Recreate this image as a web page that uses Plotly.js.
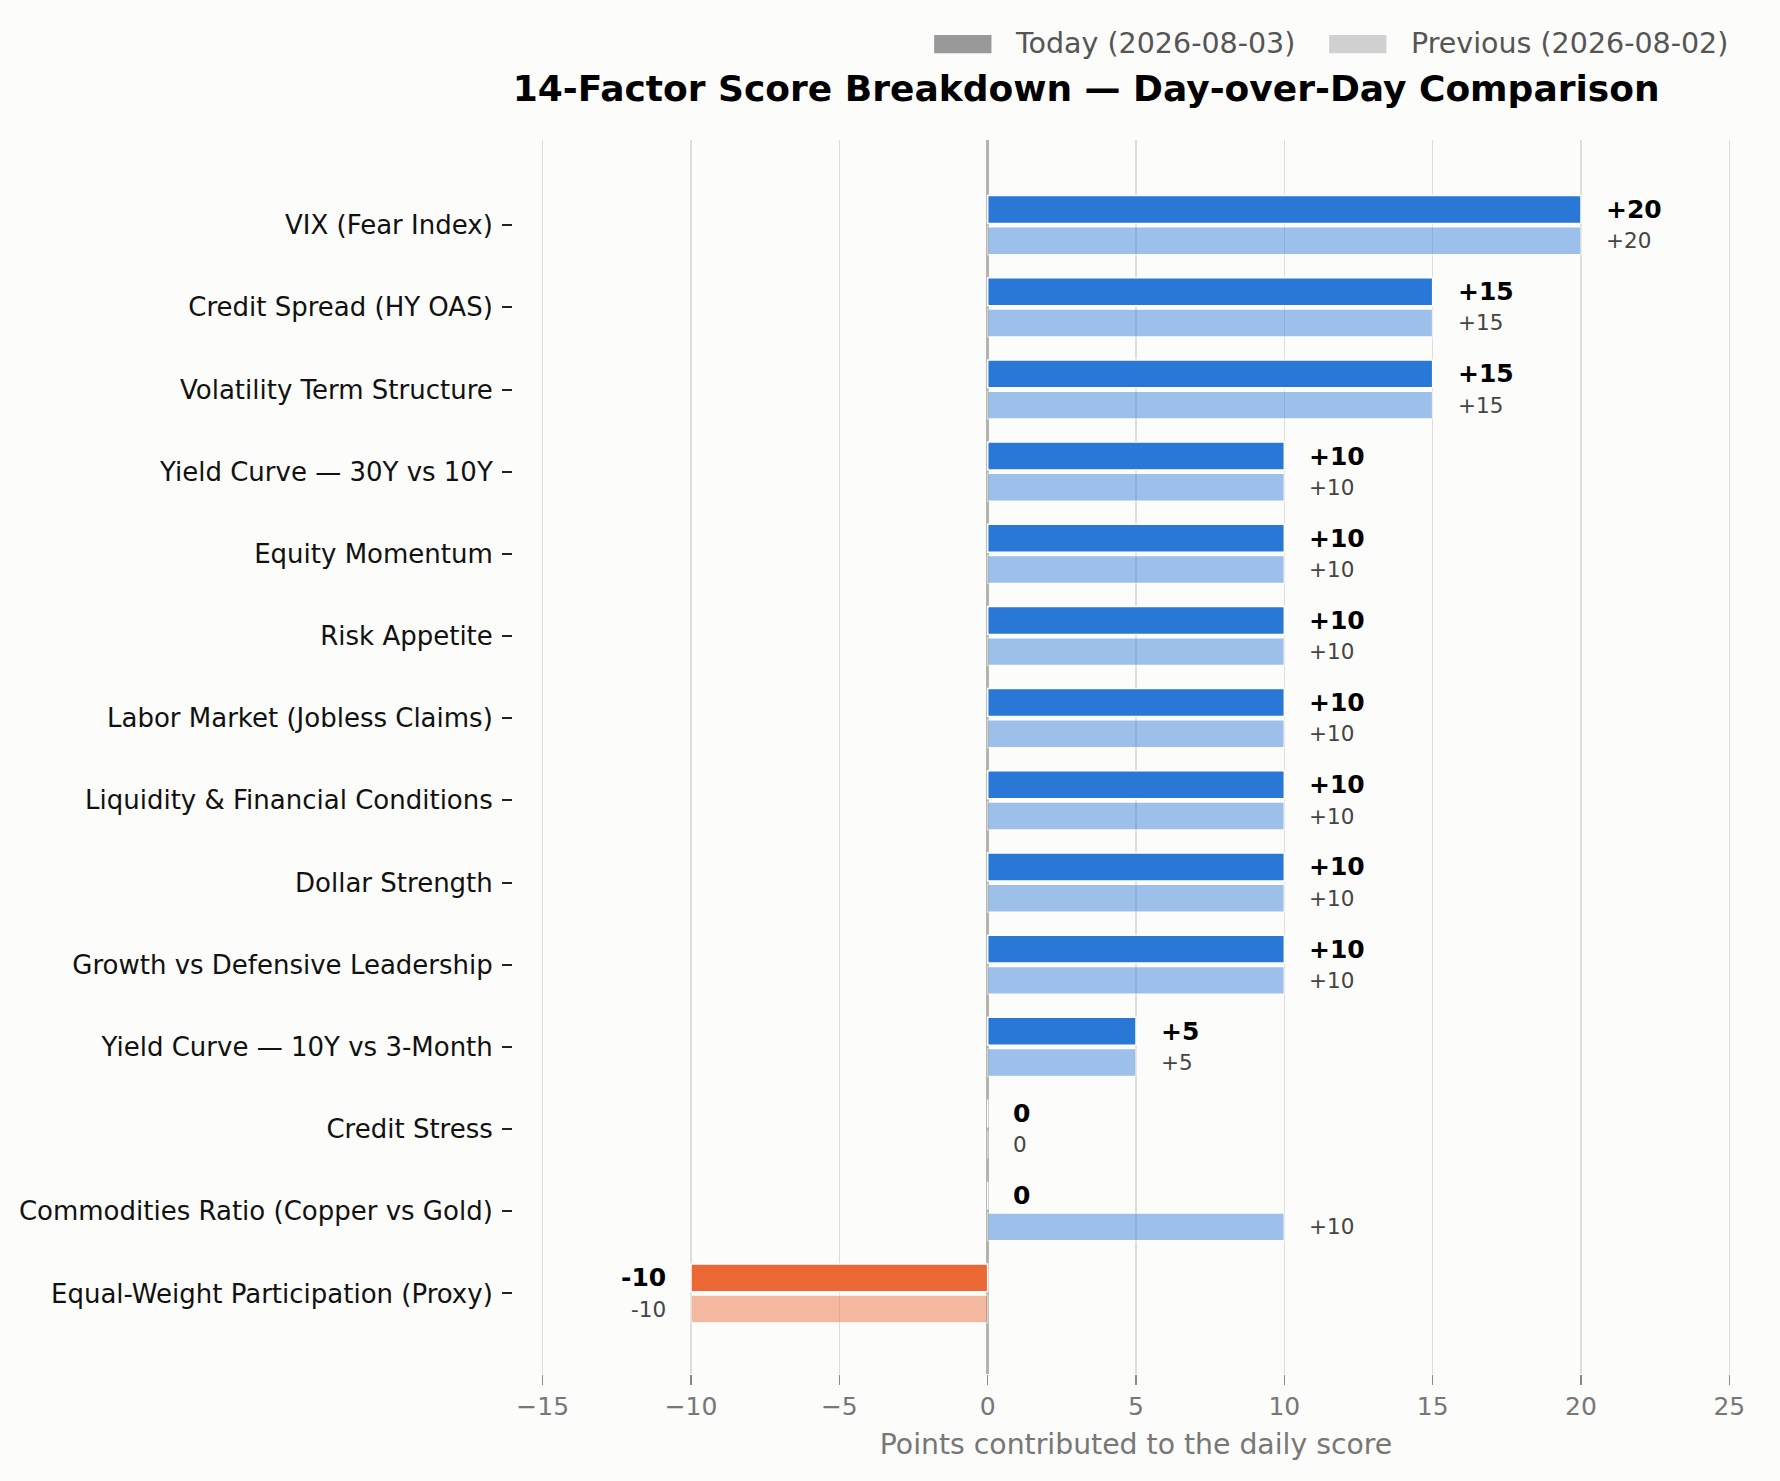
<!DOCTYPE html>
<html>
<head>
<meta charset="utf-8">
<script src="https://cdn.plot.ly/plotly-3.0.1.min.js"></script>
<style>
  html, body { margin: 0; padding: 0; background: #fcfcfa; }
  #chart { width: 1780px; height: 1481px; }
</style>
</head>
<body>
<div id="chart"></div>
<script>
// factor names, top to bottom
var factors = [
  "VIX (Fear Index)",
  "Credit Spread (HY OAS)",
  "Volatility Term Structure",
  "Yield Curve \u2014 30Y vs 10Y",
  "Equity Momentum",
  "Risk Appetite",
  "Labor Market (Jobless Claims)",
  "Liquidity & Financial Conditions",
  "Dollar Strength",
  "Growth vs Defensive Leadership",
  "Yield Curve \u2014 10Y vs 3-Month",
  "Credit Stress",
  "Commodities Ratio (Copper vs Gold)",
  "Equal-Weight Participation (Proxy)"
];
var today    = [20, 15, 15, 10, 10, 10, 10, 10, 10, 10, 5, 0, 0, -10];
var previous = [20, 15, 15, 10, 10, 10, 10, 10, 10, 10, 5, 0, 10, -10];
var legendNames = ["Today (2026-08-03)", "Previous (2026-08-02)"];
var xTicks = [-15, -10, -5, 0, 5, 10, 15, 20, 25];

var POS = "#2a78d6", NEG = "#eb6734";

function barColor(v) { return v < 0 ? NEG : POS; }
function fmt(v) { return v > 0 ? "+" + v : String(v); }

var traceToday = {
  type: "bar",
  orientation: "h",
  name: legendNames[0],
  y: factors,
  x: today,
  marker: { color: today.map(barColor), line: { color: "#ffffff", width: 1.5 } },
  showlegend: false,
  hoverinfo: "x+y"
};
var tracePrev = {
  type: "bar",
  orientation: "h",
  name: legendNames[1],
  y: factors,
  x: previous,
  marker: { color: previous.map(barColor), opacity: 0.45, line: { color: "#ffffff", width: 1.5 } },
  showlegend: false,
  hoverinfo: "x+y"
};

// value labels beside each bar
var annotations = [];
today.forEach(function (v, i) {
  annotations.push({
    x: v, y: i - 0.19, xref: "x", yref: "y",
    text: "<b>" + fmt(v) + "</b>", showarrow: false,
    xanchor: v < 0 ? "right" : "left", xshift: v < 0 ? -23 : 23,
    font: { family: "DejaVu Sans", size: 25, color: "#000000" }
  });
});
previous.forEach(function (v, i) {
  annotations.push({
    x: v, y: i + 0.19, xref: "x", yref: "y",
    text: fmt(v), showarrow: false,
    xanchor: v < 0 ? "right" : "left", xshift: v < 0 ? -23 : 23,
    font: { family: "DejaVu Sans", size: 21.5, color: "#444444" }
  });
});

// legend drawn as patches + labels (the swatches are neutral grey)
var shapes = [
  { type: "rect", xref: "paper", yref: "paper", x0: 0.338, x1: 0.384, y0: 1.0704, y1: 1.085,
    fillcolor: "#999999", line: { width: 0 } },
  { type: "rect", xref: "paper", yref: "paper", x0: 0.655, x1: 0.701, y0: 1.0704, y1: 1.085,
    fillcolor: "#d0d0d0", line: { width: 0 } }
];
annotations.push({
  xref: "paper", yref: "paper", x: 0.401, y: 1.0778, xanchor: "left", yanchor: "middle",
  text: legendNames[0], showarrow: false,
  font: { family: "DejaVu Sans", size: 28.5, color: "#555555" }
});
annotations.push({
  xref: "paper", yref: "paper", x: 0.719, y: 1.0778, xanchor: "left", yanchor: "middle",
  text: legendNames[1], showarrow: false,
  font: { family: "DejaVu Sans", size: 28.5, color: "#555555" }
});

var layout = {
  width: 1780,
  height: 1481,
  paper_bgcolor: "#fcfcfa",
  plot_bgcolor: "#fcfcfa",
  font: { family: "DejaVu Sans", color: "#000000" },
  title: {
    text: "<b>14-Factor Score Breakdown \u2014 Day-over-Day Comparison</b>",
    font: { family: "DejaVu Sans", size: 36, color: "#000000" },
    xref: "paper", x: 0.46, xanchor: "center",
    yref: "container", y: 0.9405, yanchor: "middle"
  },
  margin: { l: 513, r: 21, t: 140, b: 107, pad: 0 },
  barmode: "group",
  bargap: 0.24,
  bargroupgap: 0.105,
  showlegend: false,
  xaxis: {
    range: [-16, 26],
    tickvals: xTicks,
    ticktext: xTicks.map(function (t) { return t < 0 ? "\u2212" + Math.abs(t) : String(t); }),
    ticks: "outside",
    ticklen: 10,
    tickwidth: 1.5,
    tickcolor: "#888888",
    tickfont: { family: "DejaVu Sans", size: 25, color: "#777777" },
    showgrid: true,
    gridcolor: "#dddddd",
    gridwidth: 1.5,
    zeroline: true,
    zerolinecolor: "#b4b4ae",
    zerolinewidth: 2.5,
    showline: false,
    title: {
      text: "Points contributed to the daily score",
      font: { family: "DejaVu Sans", size: 28.3, color: "#777777" },
      standoff: 14
    },
    automargin: false,
    fixedrange: true
  },
  yaxis: {
    type: "category",
    range: [13.98, -1.036],
    ticks: "outside",
    ticklen: 10,
    tickwidth: 2,
    tickcolor: "#222222",
    ticklabelstandoff: 4,
    tickfont: { family: "DejaVu Sans", size: 26, color: "#111111" },
    showgrid: false,
    zeroline: false,
    showline: false,
    automargin: false,
    fixedrange: true
  },
  shapes: shapes,
  annotations: annotations
};

Plotly.newPlot("chart", [traceToday, tracePrev], layout, { displayModeBar: false, staticPlot: true });
</script>
</body>
</html>
